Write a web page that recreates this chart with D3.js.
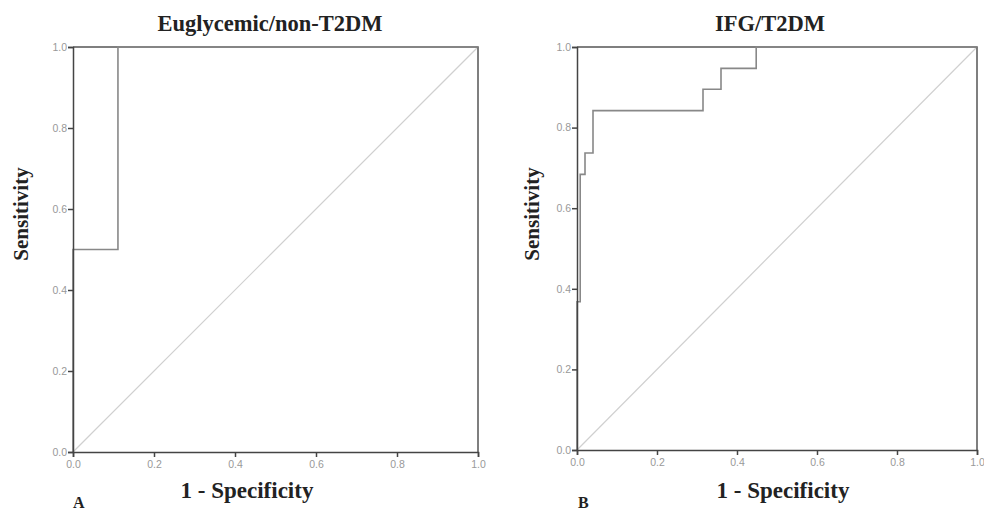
<!DOCTYPE html>
<html>
<head>
<meta charset="utf-8">
<script src="https://cdn.jsdelivr.net/npm/d3@7"></script>
<style>
	body { margin: 0; background: #fff; }
	svg { display: block; }
	.tick text { font-family: "Liberation Sans", Arial, sans-serif; font-size: 10.5px; fill: #999; }
	.tick line { stroke: #444; stroke-width: 1.5; }
	.domain { stroke: #444; stroke-width: 1.5; }
	.title, .axisTitle, .panelTag { font-family: "Liberation Serif", "Times New Roman", serif; font-weight: bold; fill: #222; }
</style>
</head>
<body>
<svg id="chart" width="984" height="512"></svg>
<script>

// panel A: Euglycemic/non-T2DM ROC points
var fprA = [0, 0, 0.111, 1];
var tprA = [0, 0.5, 1, 1];

// panel B: IFG/T2DM ROC points
var fprB = [0, 0, 0.008, 0.02, 0.04, 0.315, 0.36, 0.448, 1];
var tprB = [0, 0.368, 0.684, 0.737, 0.842, 0.895, 0.947, 1, 1];

var tickValues = [0, 0.2, 0.4, 0.6, 0.8, 1.0];
var titles = ["Euglycemic/non-T2DM", "IFG/T2DM"];
var tags = ["A", "B"];

var svg = d3.select("#chart");

//LAYOUT - one box per panel
var panels = [
	{ left: 73, right: 478, top: 47, bottom: 452, fpr: fprA, tpr: tprA, labelX: 28, tagX: 73 },
	{ left: 577, right: 977, top: 47, bottom: 450, fpr: fprB, tpr: tprB, labelX: 539, tagX: 578 }
];

panels.forEach((p, i) => {
	var xScale = d3.scaleLinear().domain([0, 1]).range([p.left, p.right]);
	var yScale = d3.scaleLinear().domain([0, 1]).range([p.bottom, p.top]);

	var g = svg.append("g").attr("class", "panel");

	//reference diagonal
	g.append("line")
		.attr("x1", xScale(0)).attr("y1", yScale(0))
		.attr("x2", xScale(1)).attr("y2", yScale(1))
		.attr("stroke", "#d0d0d0")
		.attr("stroke-width", 1.2);

	//frame top and right
	g.append("path")
		.attr("d", "M" + xScale(0) + "," + yScale(1) + "H" + xScale(1) + "V" + yScale(0))
		.attr("fill", "none")
		.attr("stroke", "#555")
		.attr("stroke-width", 1.5);

	//roc curve
	var pts = p.fpr.map((d, k) => [d, p.tpr[k]]);
	var line = d3.line()
		.x(d => xScale(d[0]))
		.y(d => yScale(d[1]))
		.curve(d3.curveStepAfter);

	g.append("path")
		.attr("d", line(pts))
		.attr("fill", "none")
		.attr("stroke", "#888")
		.attr("stroke-width", 1.6);

	//axes
	var fmt = d3.format(".1f");
	g.append("g")
		.attr("class", "xAxis")
		.attr("transform", "translate(0," + p.bottom + ")")
		.call(d3.axisBottom(xScale).tickValues(tickValues).tickFormat(fmt).tickSize(5).tickPadding(4));

	g.append("g")
		.attr("class", "yAxis")
		.attr("transform", "translate(" + p.left + ",0)")
		.call(d3.axisLeft(yScale).tickValues(tickValues).tickFormat(fmt).tickSize(5).tickPadding(1));

	//titles
	g.append("text")
		.attr("class", "title")
		.attr("x", i == 0 ? 270 : 770)
		.attr("y", 31)
		.attr("text-anchor", "middle")
		.attr("font-size", 22.5)
		.text(titles[i]);

	g.append("text")
		.attr("class", "axisTitle")
		.attr("x", i == 0 ? 247 : 783)
		.attr("y", 498)
		.attr("text-anchor", "middle")
		.attr("font-size", 23)
		.text("1 - Specificity");

	g.append("text")
		.attr("class", "axisTitle")
		.attr("transform", "translate(" + p.labelX + ",214) rotate(-90)")
		.attr("text-anchor", "middle")
		.attr("font-size", 21)
		.text("Sensitivity");

	g.append("text")
		.attr("class", "panelTag")
		.attr("x", p.tagX)
		.attr("y", 508)
		.attr("font-size", 16)
		.text(tags[i]);
});

</script>
</body>
</html>
